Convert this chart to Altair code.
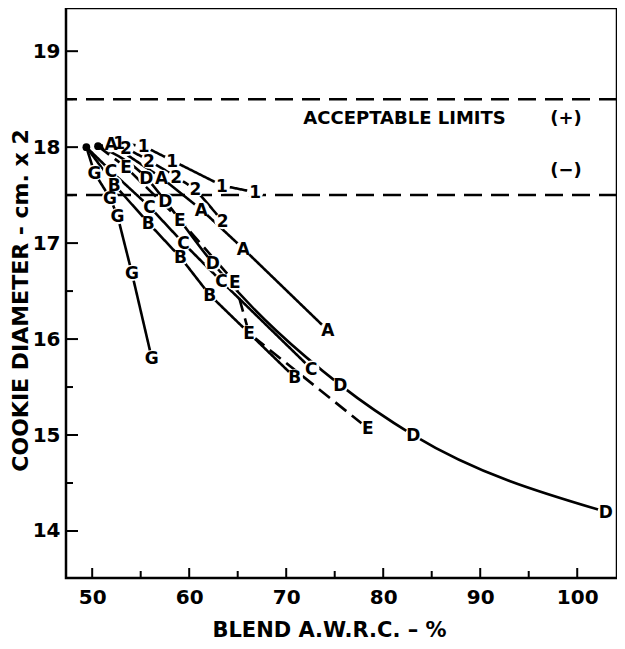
import altair as alt
import pandas as pd

# ---- data ----
series_names = ["A", "1", "2", "B", "C", "D", "E", "G"]

a_x = [50.6, 51.94, 57.16, 61.24, 65.59, 74.29]
a_y = [18.01, 18.03, 17.68, 17.35, 16.94, 16.09]

s1_x = [50.6, 52.79, 55.30, 58.25, 63.37, 66.79]
s1_y = [18.01, 18.04, 18.01, 17.86, 17.60, 17.53]

s2_x = [50.6, 53.48, 55.86, 58.66, 60.64, 63.44]
s2_y = [18.01, 17.99, 17.86, 17.69, 17.56, 17.23]

b_x = [49.4, 52.28, 55.79, 59.11, 62.11, 70.88]
b_y = [18.00, 17.61, 17.21, 16.85, 16.46, 15.60]

c_x = [49.4, 51.94, 55.90, 59.40, 63.34, 72.58]
c_y = [18.00, 17.75, 17.38, 17.00, 16.60, 15.69]

d_x = [50.6, 55.59, 57.53, 62.44, 75.59, 83.09, 102.95]
d_y = [18.01, 17.68, 17.44, 16.79, 15.52, 15.00, 14.20]

e_x = [50.6, 53.48, 59.04, 64.71, 66.17, 78.41]
e_y = [18.01, 17.79, 17.24, 16.59, 16.06, 15.07]

g_x = [49.4, 50.24, 51.84, 52.62, 54.09, 56.14]
g_y = [18.00, 17.73, 17.47, 17.28, 16.69, 15.80]

start_x = [49.4, 50.6]
start_y = [18.00, 18.01]

limit_values = [18.5, 17.5]
note_text = ["ACCEPTABLE LIMITS", "(+)", "(\u2212)"]
note_x = [82.2, 98.85, 98.85]
note_y = [18.29, 18.29, 17.75]

x_major = [50, 60, 70, 80, 90, 100]
x_minor = [55, 65, 75, 85, 95]
y_major = [14, 15, 16, 17, 18, 19]
y_minor = [14.5, 15.5, 16.5, 17.5, 18.5]

# ---- tables ----
all_x = [a_x, s1_x, s2_x, b_x, c_x, d_x, e_x, g_x]
all_y = [a_y, s1_y, s2_y, b_y, c_y, d_y, e_y, g_y]
rows = []
for name, xs, ys in zip(series_names, all_x, all_y):
    for i, (xv, yv) in enumerate(zip(xs, ys)):
        rows.append({"series": name, "x": xv, "y": yv, "order": i, "label": i > 0})
df = pd.DataFrame(rows)
df_start = pd.DataFrame({"x": start_x, "y": start_y})
df_lim = pd.DataFrame({"y": limit_values})
df_note = pd.DataFrame({"x": note_x, "y": note_y, "text": note_text})
df_xmaj = pd.DataFrame({"x": x_major})
df_xmin = pd.DataFrame({"x": x_minor})
df_ymaj = pd.DataFrame({"y": y_major})
df_ymin = pd.DataFrame({"y": y_minor})

FONT = "DejaVu Sans"
W, H = 551, 570

xscale = alt.Scale(domain=[47.3, 104.1], nice=False, zero=False)
yscale = alt.Scale(domain=[13.51, 19.45], nice=False, zero=False)
xaxis = alt.Axis(values=x_major, ticks=False, tickSize=0, domain=False, grid=False,
                 labelFont=FONT, labelFontSize=20, labelFontWeight="bold", labelColor="black",
                 labelPadding=9, title="BLEND A.W.R.C. \u2013 %", titleFont=FONT,
                 titleFontSize=21, titleFontWeight="bold", titleColor="black",
                 titleX=263, titleY=52, titleBaseline="middle", titleAlign="center")
yaxis = alt.Axis(values=y_major, ticks=False, tickSize=0, domain=False, grid=False,
                 labelFont=FONT, labelFontSize=20, labelFontWeight="bold", labelColor="black",
                 labelPadding=6, title="COOKIE DIAMETER - cm. x 2", titleFont=FONT,
                 titleFontSize=22, titleFontWeight="bold", titleColor="black",
                 titleX=-46, titleY=292, titleBaseline="middle", titleAlign="center")
X = alt.X("x:Q", scale=xscale, axis=xaxis)
Y = alt.Y("y:Q", scale=yscale, axis=yaxis)

lim = alt.Chart(df_lim).mark_rule(color="black", strokeWidth=2.5, strokeDash=[18, 9]).encode(y=Y)

base_lines = alt.Chart(df)
lines_straight = base_lines.transform_filter("datum.series != 'D'").mark_line(
    color="black", strokeWidth=2.6).encode(
    x=X, y=Y, detail="series:N", order="order:Q",
    strokeDash=alt.condition(alt.datum.series == "E", alt.value([14, 7]), alt.value([1, 0])),
)
lines_curved = base_lines.transform_filter("datum.series == 'D'").mark_line(
    interpolate="monotone", color="black", strokeWidth=2.6).encode(
    x=X, y=Y, detail="series:N", order="order:Q",
)

halo = alt.Chart(df).transform_filter("datum.label").mark_circle(
    size=270, color="white", opacity=1, strokeWidth=0).encode(x=X, y=Y)

dots = alt.Chart(df_start).mark_circle(size=60, color="black", opacity=1).encode(x=X, y=Y)

labels = alt.Chart(df).transform_filter("datum.label").mark_text(
    font=FONT, fontSize=17, fontWeight="bold", color="black", baseline="middle",
    align="center", dy=1).encode(x=X, y=Y, text="series:N")

notes = alt.Chart(df_note).mark_text(
    font=FONT, fontSize=18, fontWeight="bold", color="black", baseline="middle",
    align="center").encode(x=X, y=Y, text="text:N")

xt_maj = alt.Chart(df_xmaj).mark_rule(color="black", strokeWidth=2).encode(
    x=X, y=alt.value(H), y2=alt.value(H - 10))
xt_min = alt.Chart(df_xmin).mark_rule(color="black", strokeWidth=2).encode(
    x=X, y=alt.value(H), y2=alt.value(H - 7))
yt_maj = alt.Chart(df_ymaj).mark_rule(color="black", strokeWidth=2).encode(
    y=Y, x=alt.value(0), x2=alt.value(12))
yt_min = alt.Chart(df_ymin).mark_rule(color="black", strokeWidth=2).encode(
    y=Y, x=alt.value(0), x2=alt.value(7))

chart = alt.layer(
    lim, lines_straight, lines_curved, halo, dots, labels, notes, xt_maj, xt_min, yt_maj, yt_min
).properties(
    width=W, height=H,
    autosize=alt.AutoSizeParams(type="none"),
    padding={"left": 58, "top": 0, "right": 0, "bottom": 63},
    background="white",
).configure_view(stroke="black", strokeWidth=2.5)

chart.save("out.html", embed_options={"renderer": "svg", "actions": False})
